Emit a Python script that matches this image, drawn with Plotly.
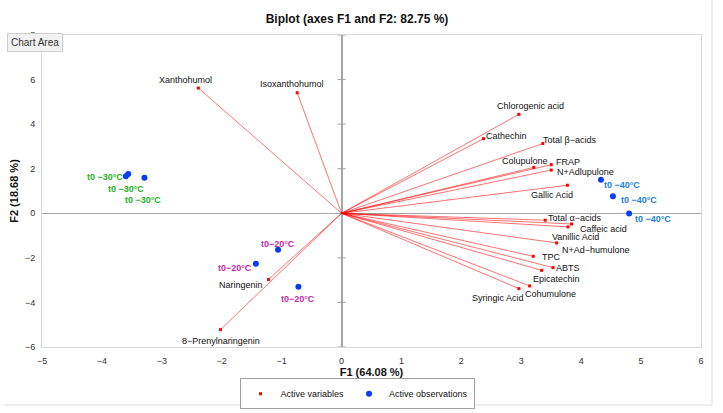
import plotly.graph_objects as go

# ---- Data ----
var_names = ["Xanthohumol", "Isoxanthohumol", "Chlorogenic acid", "Cathechin", "Total β−acids",
             "Colupulone", "FRAP", "N+Adlupulone", "Gallic Acid", "Total α−acids", "Caffeic acid",
             "Vanillic Acid", "N+Ad−humulone", "TPC", "ABTS", "Epicatechin", "Cohumulone",
             "Syringic Acid", "Naringenin", "8−Prenylnaringenin"]
var_f1 = [-2.39, -0.74, 2.96, 2.37, 3.36, 3.21, 3.50, 3.50, 3.77, 3.40, 3.84,
          3.78, 3.59, 3.20, 3.53, 3.34, 3.14, 2.96, -1.22, -2.02]
var_f2 = [5.62, 5.41, 4.44, 3.35, 3.13, 2.06, 2.18, 1.94, 1.26, -0.31, -0.48,
          -0.61, -1.33, -1.93, -2.44, -2.56, -3.26, -3.38, -2.97, -5.22]
# label offsets in px (style)
var_dx = [-13, -5, 12, 23, 27, -9, 17, 34, -15, 29, 32, 7, 39, 18, 15, 15, 21, -21, -27, 0]
var_dy = [8, 9, 8, 3, 4, 6, 3, -2, -10, 2, -5, -10, -7, -1, 0, -9, -8, -9, -6, -11]

obs_names = ["t0 −30°C", "t0 −30°C", "t0 −30°C",
             "t0−20°C", "t0−20°C", "t0−20°C",
             "t0 −40°C", "t0 −40°C", "t0 −40°C"]
obs_f1 = [-3.60, -3.56, -3.29, -1.06, -1.43, -0.72, 4.33, 4.53, 4.80]
obs_f2 = [1.66, 1.76, 1.60, -1.64, -2.27, -3.30, 1.51, 0.76, -0.01]
obs_colors = ["#1db31d"] * 3 + ["#c42fa9"] * 3 + ["#1c7fd6"] * 3
obs_dx = [-21, -2, -1, 0, -21, 0, 21, 26, 24]
obs_dy = [-1, -15, -22, 6, -4, -12, -5, -4, -5]

x_ticks = [-5, -4, -3, -2, -1, 0, 1, 2, 3, 4, 5, 6]
y_ticks = [-6, -4, -2, 0, 2, 4, 6, 8]

FONT = "Liberation Sans, Arial, sans-serif"

fig = go.Figure()

# vector lines
lx, ly = [], []
for a, b in zip(var_f1, var_f2):
    lx += [0, a, None]
    ly += [0, b, None]
fig.add_trace(go.Scatter(x=lx, y=ly, mode="lines", showlegend=False, hoverinfo="skip",
                         line=dict(color="rgba(255,0,0,0.7)", width=0.8)))
fig.add_trace(go.Scatter(x=var_f1, y=var_f2, mode="markers", name="Active variables",
                         text=var_names,
                         marker=dict(color="#ff0000", size=3, symbol="square")))
fig.add_trace(go.Scatter(x=obs_f1, y=obs_f2, mode="markers", name="Active observations",
                         text=obs_names,
                         marker=dict(color="#0a3cf0", size=6)))

ann = []
for n, a, b, dx, dy in zip(var_names, var_f1, var_f2, var_dx, var_dy):
    ann.append(dict(x=a, y=b, xref="x", yref="y", text=n, showarrow=False,
                    xshift=dx, yshift=dy, font=dict(family=FONT, size=9, color="#111")))
for n, a, b, c, dx, dy in zip(obs_names, obs_f1, obs_f2, obs_colors, obs_dx, obs_dy):
    ann.append(dict(x=a, y=b, xref="x", yref="y", text="<b>%s</b>" % n, showarrow=False,
                    xshift=dx, yshift=dy, font=dict(family=FONT, size=9, color=c)))
# Excel tooltip
ann.append(dict(x=-0.0099, y=0.976, xref="paper", yref="paper", xanchor="center",
                yanchor="middle", text="Chart Area",
                showarrow=False, font=dict(family=FONT, size=10, color="#333"),
                bgcolor="#f2f2f2", bordercolor="#cfcfcf", borderwidth=1, borderpad=3))

shapes = []
for t in y_ticks:
    if t == 0:
        continue
    shapes.append(dict(type="line", xref="x", yref="y", xsizemode="pixel", xanchor=0,
                       x0=-4, x1=4, y0=t, y1=t, line=dict(color="#a0a0a0", width=1)))
# outer chart area border
shapes.append(dict(type="line", xref="paper", yref="paper", x0=-0.057, x1=1.0167,
                   y0=-0.186, y1=-0.186, line=dict(color="#dedede", width=1)))
shapes.append(dict(type="line", xref="paper", yref="paper", x0=1.0167, x1=1.0167,
                   y0=-0.186, y1=1.12, line=dict(color="#dedede", width=1)))

fig.update_layout(
    width=723, height=413,
    margin=dict(l=42, r=22, t=35, b=66, autoexpand=False),
    paper_bgcolor="white", plot_bgcolor="white",
    font=dict(family=FONT, size=9, color="#333"),
    title=dict(text="<b>Biplot (axes F1 and F2: 82.75 %)</b>", x=357 / 723, xanchor="center",
               y=1 - 19 / 413, yanchor="middle", font=dict(family=FONT, size=12, color="#111")),
    xaxis=dict(range=[-5, 6], tickvals=x_ticks, showgrid=False, zeroline=True,
               zerolinecolor="#a6a6a6", zerolinewidth=2, showline=True, mirror=True,
               linecolor="#d9d9d9", linewidth=1, ticks="outside", ticklen=5,
               tickcolor="rgba(0,0,0,0)",
               tickfont=dict(family=FONT, size=9, color="#333"),
               title=dict(text="<b>F1 (64.08 %)</b>", standoff=0,
                          font=dict(family=FONT, size=11, color="#111"))),
    yaxis=dict(range=[-6, 8], tickvals=y_ticks, showgrid=False, zeroline=True,
               zerolinecolor="#a6a6a6", zerolinewidth=1, showline=True, mirror=True,
               linecolor="#d9d9d9", linewidth=1, ticks="outside", ticklen=4,
               tickcolor="rgba(0,0,0,0)",
               tickfont=dict(family=FONT, size=9, color="#333"),
               title=dict(text="<b>F2 (18.68 %)</b>", standoff=4,
                          font=dict(family=FONT, size=11, color="#111"))),
    legend=dict(orientation="h", x=(357 - 42) / 659, xanchor="center", y=-0.1, yanchor="top",
                bordercolor="#a0a0a0", borderwidth=1, itemwidth=30,
                font=dict(family=FONT, size=9, color="#111")),
    annotations=ann, shapes=shapes,
)

fig.write_html("out.html")
